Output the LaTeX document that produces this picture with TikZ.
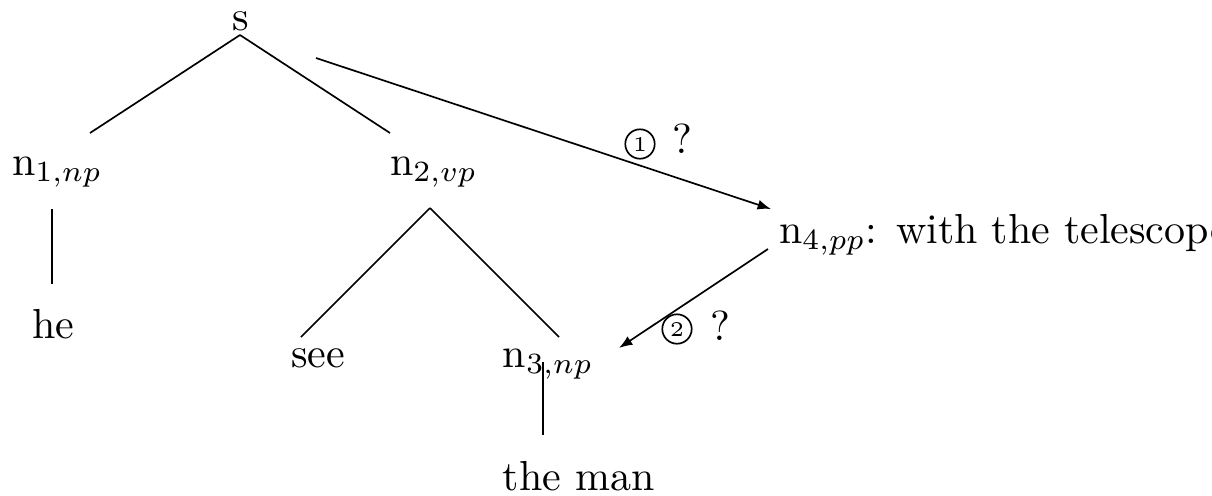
\documentclass[tikz,border=0pt]{standalone}
\usepackage{amsmath,amssymb}
\usepackage{tikz}
\usetikzlibrary{arrows.meta,positioning}

\tikzset{
  word/.style={anchor=base west, inner sep=0pt, outer sep=0pt},
  stepno/.style={circle, draw, thin, inner sep=0pt, minimum size=7pt, font=\tiny},
  branch/.style={thin},
  guess/.style={thin, -{Latex[length=3.2pt,width=2.4pt]}}
}

\begin{document}
\begin{tikzpicture}[x=0.2381pt, y=-0.2381pt]
\useasboundingbox (0,0) rectangle (1212,495);
\node[word] (s) at (233,30) {s};
\node[word] (n1) at (12,175) {n$_{1,np}$};
\node[word] (n2) at (390,175) {n$_{2,vp}$};
\node[word] (he) at (32,338) {he};
\node[word] (see) at (291,367) {see};
\node[word] (n3) at (503,367) {n$_{3,np}$};
\node[word] (man) at (503,490) {the man};
\node[word] (n4) at (779,243) {n$_{4,pp}$: with the telescope};
\draw[branch] ([shift={(7,5)}]s.base west) -- ([shift={(78,-42)}]n1.base west);
\draw[branch] ([shift={(7,5)}]s.base west) -- ([shift={(0,-42)}]n2.base west);
\draw[branch] ([shift={(40,34)}]n1.base west) -- ([shift={(20,-54)}]he.base west);
\draw[branch] ([shift={(40,33)}]n2.base west) -- ([shift={(10,-30)}]see.base west);
\draw[branch] ([shift={(40,33)}]n2.base west) -- ([shift={(56,-30)}]n3.base west);
\draw[branch] ([shift={(40,-5)}]n3.base west) -- ([shift={(40,-55)}]man.base west);
\draw[guess] ([shift={(83,28)}]s.base west) -- ([shift={(-8,-34)}]n4.base west);
\draw[guess] ([shift={(-11,6)}]n4.base west) -- ([shift={(116,-19)}]n3.base west);
\node[stepno] (c1) at (640,144) {1};
\node[word] (q1) at (673,153) {?};
\node[stepno] (c2) at (677,329) {2};
\node[word] (q2) at (710,340) {?};
\end{tikzpicture}
\end{document}
